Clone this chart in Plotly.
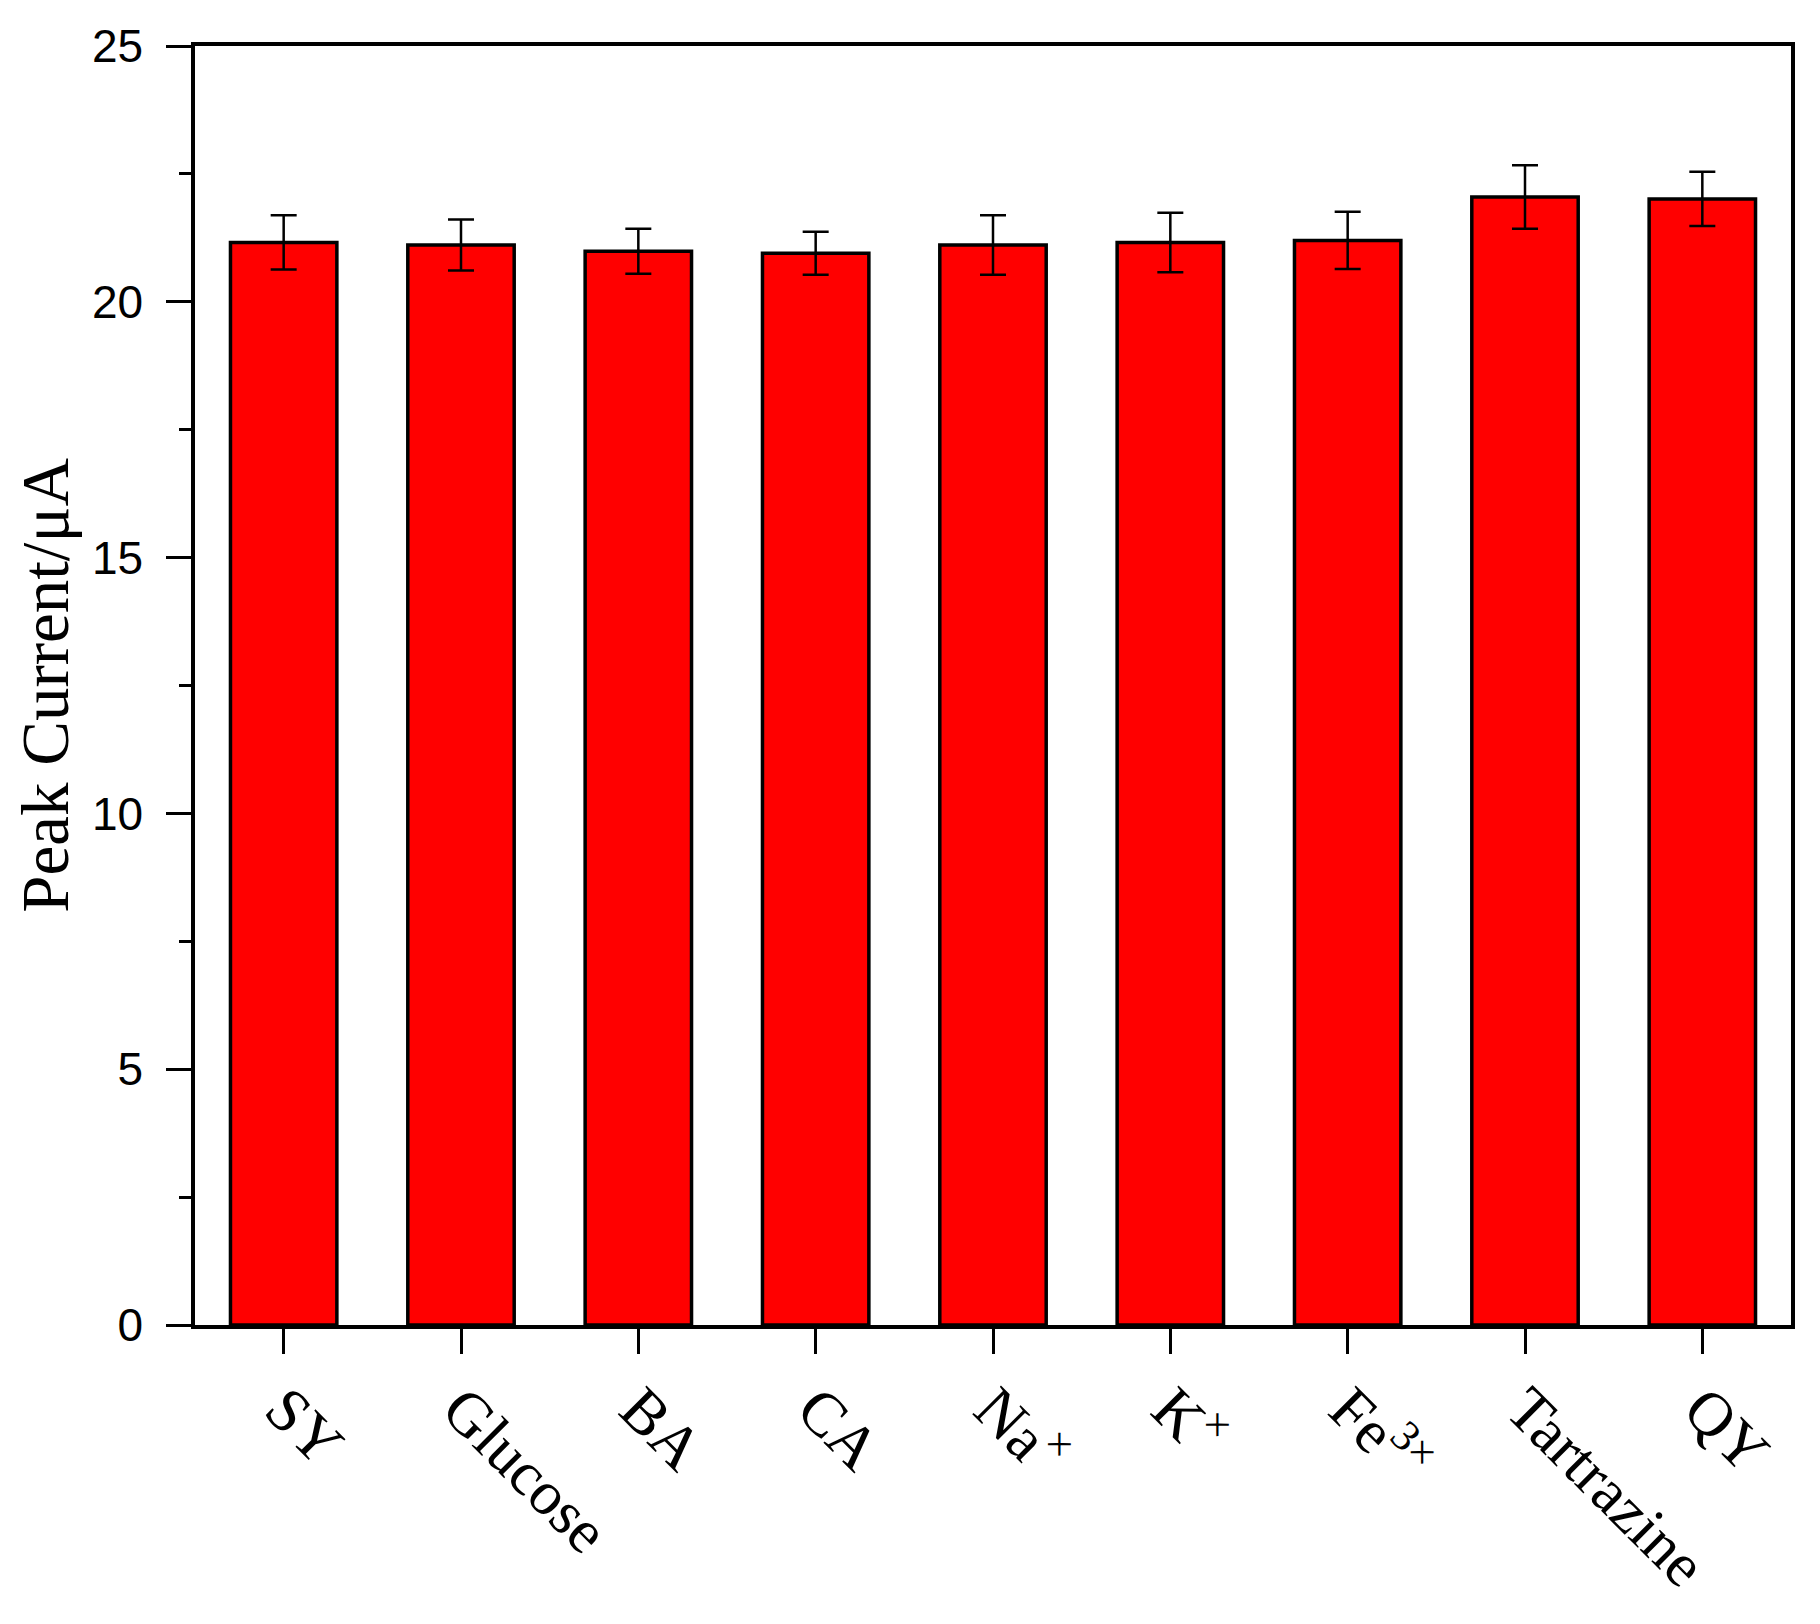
import plotly.graph_objects as go

categories = ["SY", "Glucose", "BA", "CA", "Na<sup>×</sup>", "K<sup>×</sup>", "Fe<sup>3×</sup>", "Tartrazine", "QY"]
peak_current = [21.16, 21.11, 20.99, 20.95, 21.11, 21.16, 21.20, 22.05, 22.01]
error_sd = [0.53, 0.50, 0.44, 0.42, 0.58, 0.58, 0.56, 0.62, 0.53]
y_ticks = [0, 5, 10, 15, 20, 25]

fig = go.Figure()
fig.add_trace(go.Bar(
    x=categories,
    y=peak_current,
    marker=dict(color="#FF0000", line=dict(color="black", width=3.5)),
    error_y=dict(type="data", array=error_sd, visible=True, color="black", thickness=2.5, width=13),
    width=0.6,
))

fig.update_layout(
    width=1820, height=1624,
    margin=dict(l=187, r=37, t=31, b=307),
    paper_bgcolor="white", plot_bgcolor="white",
    showlegend=False,
)
fig.update_xaxes(
    range=[-0.5, 8.5],
    showline=True, linecolor="black", linewidth=3.5, mirror=True,
    ticks="outside", ticklen=25, tickwidth=3, tickcolor="black",
    tickangle=45,
    ticklabelstandoff=-6,
    tickfont=dict(family="Liberation Serif", size=62, color="black"),
    showgrid=False,
)
fig.update_yaxes(
    range=[0, 25],
    tickvals=y_ticks,
    showline=True, linecolor="black", linewidth=3.5, mirror=True,
    ticks="outside", ticklen=25, tickwidth=3, tickcolor="black",
    minor=dict(dtick=2.5, ticks="outside", ticklen=12, tickwidth=3, tickcolor="black", showgrid=False),
    tickfont=dict(family="Liberation Sans", size=46, color="black"),
    ticklabelstandoff=14,
    showgrid=False, zeroline=False,
    title=dict(text="Peak Current/μA", font=dict(family="Liberation Serif", size=67, color="black"), standoff=22),
)

fig.write_html("out.html")
